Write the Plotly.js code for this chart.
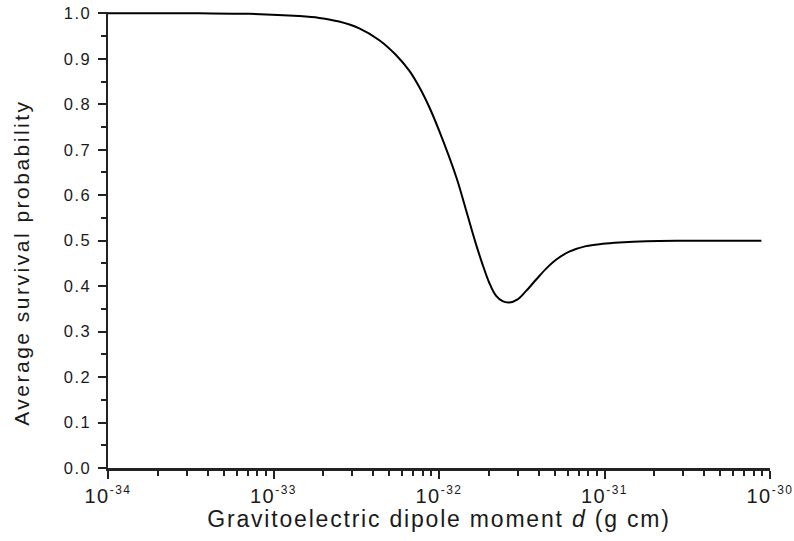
<!DOCTYPE html>
<html>
<head>
<meta charset="utf-8">
<script src="https://cdn.plot.ly/plotly-3.0.1.min.js"></script>
<style>
html,body{margin:0;padding:0;background:#fff;}
#chart{width:794px;height:541px;}
#chart .xtitle{letter-spacing:1.8px;}
#chart .annotation-text{letter-spacing:2.5px;}
#chart .ytick text{letter-spacing:1.5px;}
#chart .xtick text{letter-spacing:1.5px;}
</style>
</head>
<body>
<div id="chart"></div>
<script>
// Gravitoelectric dipole moment d (g cm)
const dipoleMoment = [1.0e-34, 3.55e-34, 7.11e-34, 1.43e-33, 1.89e-33, 2.49e-33, 3.30e-33, 4.36e-33,
  5.48e-33, 6.61e-33, 7.60e-33, 8.73e-33, 1.002e-32, 1.271e-32, 1.455e-32, 1.671e-32,
  1.832e-32, 2.009e-32, 2.208e-32, 2.421e-32, 2.655e-32, 2.985e-32, 3.350e-32, 3.855e-32,
  4.426e-32, 5.093e-32, 6.124e-32, 7.727e-32, 9.750e-32, 1.227e-31, 1.791e-31, 2.831e-31, 8.87e-31];
// Average survival probability
const survivalProb = [1.0, 1.0, 0.999, 0.994, 0.990, 0.982, 0.967, 0.941,
  0.909, 0.874, 0.838, 0.794, 0.742, 0.640, 0.568, 0.493,
  0.448, 0.408, 0.379, 0.367, 0.364, 0.371, 0.389, 0.414,
  0.438, 0.458, 0.476, 0.488, 0.493, 0.496, 0.499, 0.500, 0.500];

const xTickVals = [1e-34, 1e-33, 1e-32, 1e-31, 1e-30];
const xTickExp = ['-34', '-33', '-32', '-31', '-30'];
const yTickVals = [0, 0.1, 0.2, 0.3, 0.4, 0.5, 0.6, 0.7, 0.8, 0.9, 1.0];
const yTickText = ['0.0', '0.1', '0.2', '0.3', '0.4', '0.5', '0.6', '0.7', '0.8', '0.9', '1.0'];
const xTitle = 'Gravitoelectric dipole moment <i>d</i> (g cm)';
const yTitle = 'Average survival probability';

const xTickText = xTickExp.map(e => '10<sup><span style="font-size:12px">' + e + '</span></sup>');
const xMinor = [];
for (let e = -34; e < -30; e++) for (let m = 2; m <= 9; m++) xMinor.push(m * Math.pow(10, e));
const yMinor = [];
for (let i = 0; i < 10; i++) yMinor.push(0.05 + i * 0.1);

const fontFam = 'Liberation Sans, Arial, Helvetica, sans-serif';
const ink = '#1a1a1a';

const trace = {
  x: dipoleMoment, y: survivalProb, type: 'scatter', mode: 'lines',
  line: {color: '#000', width: 2, shape: 'spline', smoothing: 1},
  hoverinfo: 'skip'
};

const layout = {
  width: 794, height: 541,
  margin: {l: 108, r: 24, t: 12, b: 73},
  paper_bgcolor: '#fff', plot_bgcolor: '#fff',
  showlegend: false,
  font: {family: fontFam, color: ink},
  xaxis: {
    type: 'log', range: [-34, -30], showgrid: false, zeroline: false,
    showline: true, linecolor: '#222', linewidth: 2.5,
    ticks: 'outside', ticklen: 8, tickwidth: 2, tickcolor: '#222',
    tickmode: 'array', tickvals: xTickVals, ticktext: xTickText,
    tickfont: {size: 20, family: fontFam, color: ink},
    minor: {tickmode: 'array', tickvals: xMinor, ticks: 'outside', ticklen: 5, tickwidth: 2, tickcolor: '#222', showgrid: false},
    title: {text: xTitle, font: {size: 23, family: fontFam, color: ink}, standoff: 4}
  },
  yaxis: {
    range: [0, 1.003], showgrid: false, zeroline: false,
    showline: true, linecolor: '#222', linewidth: 2.5,
    ticks: 'outside', ticklen: 8, tickwidth: 2, tickcolor: '#222',
    tickmode: 'array', tickvals: yTickVals, ticktext: yTickText,
    tickfont: {size: 16.5, family: fontFam, color: ink},
    ticklabelstandoff: 3,
    minor: {tickmode: 'array', tickvals: yMinor, ticks: 'outside', ticklen: 5, tickwidth: 2, tickcolor: '#222', showgrid: false}
  },
  annotations: [{
    text: yTitle, xref: 'paper', yref: 'paper', x: 0, y: 0.45,
    xanchor: 'center', yanchor: 'middle', xshift: -86, textangle: -90,
    showarrow: false, font: {size: 21, family: fontFam, color: ink}
  }]
};

Plotly.newPlot('chart', [trace], layout, {displayModeBar: false, staticPlot: true});
</script>
</body>
</html>
